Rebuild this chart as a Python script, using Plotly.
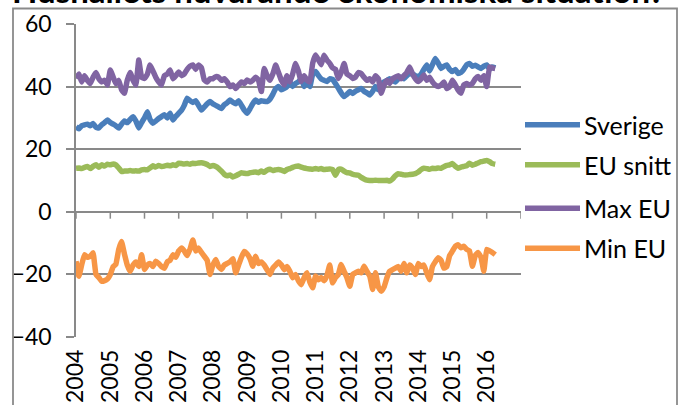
import plotly.graph_objects as go
import pandas as pd

months = pd.date_range("2004-01-01", periods=148, freq="MS")

sverige = [
    27.2, 26.5, 27.5, 27.8, 28.0, 27.5, 28.2, 27.0, 26.8, 27.8, 28.5, 29.3,
    28.5, 28.0, 27.5, 26.8, 28.0, 29.0, 28.5, 29.5, 30.4, 29.0, 26.8, 28.5,
    30.0, 32.0, 29.5, 28.3, 29.0, 29.8, 30.4, 31.0, 30.0, 31.5, 29.3, 30.5,
    31.5, 32.5, 34.0, 36.3, 35.5, 34.9, 35.5, 34.0, 32.5, 33.5, 34.5, 35.2,
    34.5, 34.0, 33.5, 33.0, 34.2, 34.8, 35.7, 35.0, 34.5, 35.5, 34.0, 32.5,
    31.5, 33.0, 34.5, 35.7, 35.0, 35.5, 35.3, 35.2, 36.0, 37.5, 39.4, 40.0,
    39.0, 39.4, 40.0, 41.5, 40.0, 41.0, 41.5, 42.5, 40.0, 42.0, 40.0, 44.0,
    44.8, 43.5, 42.5, 42.0, 41.6, 42.5, 42.3, 41.0, 39.5, 38.0, 36.8, 37.5,
    38.4, 37.8, 38.5, 39.0, 39.4, 38.5, 38.0, 37.3, 38.5, 40.0, 39.0, 41.0,
    41.5, 42.0, 42.5, 42.0, 41.5, 42.5, 43.0, 42.5, 43.5, 44.2, 44.0, 43.5,
    43.2, 44.0, 45.5, 46.9, 45.0, 47.0, 49.0, 47.5, 45.8, 46.5, 46.9, 45.5,
    44.8, 45.5, 44.2, 44.5, 45.5, 47.0, 47.4, 46.5, 46.8, 46.3, 45.8, 46.5,
    46.9, 45.5, 46.3, 46.0,
]

eu_snitt = [
    13.9, 14.0, 13.8, 14.2, 14.5, 13.8, 14.5, 15.0, 14.2, 15.0, 14.6, 15.2,
    15.0, 15.3, 15.0, 14.0, 12.9, 13.0, 13.0, 13.2, 13.0, 13.1, 13.0, 13.4,
    13.5, 13.4, 14.0, 14.7, 14.3, 14.8, 14.5, 14.6, 14.9, 14.7, 15.0, 14.8,
    15.5, 15.4, 15.3, 15.4, 15.2, 15.5, 15.4, 15.6, 15.7, 15.5, 15.1, 14.5,
    14.8, 14.5, 13.9, 13.0, 12.0, 11.5, 11.8, 11.1, 11.5, 12.0, 12.5, 12.3,
    12.2, 12.5, 12.6, 12.7, 12.5, 13.0, 12.6, 13.3, 13.6, 13.2, 13.4, 13.5,
    13.3, 12.9, 13.5, 13.8, 14.2, 14.5, 14.6, 14.3, 14.0, 13.8, 13.7, 13.6,
    13.8, 13.6, 13.8, 13.5, 13.6, 13.7, 13.5, 11.7, 13.5, 13.6, 13.0, 12.5,
    12.4, 12.0, 11.8, 11.7, 11.0, 10.5, 10.1, 10.0, 10.0, 10.1, 10.0, 10.0,
    10.0, 10.1, 9.8, 10.5, 11.5, 12.2, 12.0, 11.8, 11.8, 11.9, 12.0, 12.2,
    12.7, 13.5, 13.9, 13.8, 13.6, 13.9, 13.8, 14.0, 13.9, 14.4, 14.8, 15.0,
    15.4, 14.5, 13.9, 14.3, 14.5, 14.7, 15.5, 14.9, 15.2, 15.6, 16.0, 16.2,
    16.4, 16.0, 15.4, 15.2,
]

max_eu = [
    42.6, 44.0, 41.5, 43.5, 42.0, 41.0, 43.0, 44.5, 42.5, 41.5, 42.0, 40.5,
    45.3, 43.0, 41.0, 42.0, 39.0, 37.9, 42.0, 44.5, 42.0, 40.5, 48.5, 43.0,
    42.6, 44.0, 46.9, 45.0, 43.0, 41.5, 40.5, 43.5, 44.0, 45.3, 42.5, 43.5,
    44.7, 43.5, 44.0, 45.5, 46.5, 46.9, 45.5, 46.9, 46.0, 42.1, 41.5, 42.5,
    42.5, 43.2, 43.0, 42.0, 42.5, 41.5, 40.0, 40.5, 39.4, 40.5, 41.5, 41.0,
    42.1, 41.5, 42.0, 43.0, 42.1, 38.4, 45.8, 43.5, 42.0, 44.0, 46.9, 44.5,
    42.0, 40.5, 43.5, 41.5, 44.0, 47.4, 45.0, 41.6, 43.5, 42.0, 41.5, 47.5,
    50.1, 48.5, 47.0, 50.0, 48.5, 47.4, 46.0, 45.5, 42.6, 44.5, 47.4, 44.0,
    43.5, 42.6, 43.0, 44.5, 44.2, 43.0, 42.0, 42.5, 41.5, 43.5, 42.5, 37.9,
    40.5, 42.0, 41.0, 42.5, 43.0, 43.5, 42.5, 43.5, 44.5, 46.3, 44.0, 42.5,
    41.6, 42.5, 43.7, 42.0, 43.0, 41.5, 40.5, 40.0, 40.5, 41.5, 39.4, 40.0,
    42.0, 40.5, 38.9, 37.9, 40.5, 41.0, 40.5, 41.0, 42.5, 43.2, 42.0, 43.5,
    40.0, 46.3, 46.0, 45.8,
]

min_eu = [
    -15.8, -20.6, -17.0, -13.7, -14.5, -14.2, -13.1, -20.0, -21.0, -22.2, -22.0, -21.5,
    -20.0, -17.5, -16.8, -12.0, -9.5, -13.5, -17.0, -19.0, -17.0, -16.0, -17.5, -13.7,
    -18.4, -17.0, -16.5, -17.5, -15.8, -16.5, -17.5, -18.0, -16.0, -15.5, -13.7, -14.5,
    -12.5, -11.6, -12.5, -14.0, -12.0, -9.0, -12.5, -11.6, -13.0, -14.2, -15.5, -20.0,
    -17.0, -15.2, -17.5, -18.4, -17.0, -16.5, -16.0, -15.0, -19.5, -17.0, -14.5, -12.7,
    -13.5, -15.0, -17.4, -14.2, -16.5, -16.0, -17.0, -18.5, -20.0, -18.0, -17.0, -16.0,
    -17.0, -18.5, -17.5, -19.0, -21.1, -20.0, -22.0, -23.3, -21.0, -19.5, -22.5, -24.3,
    -20.5, -21.7, -21.0, -22.0, -20.5, -17.0, -22.7, -21.0, -20.0, -16.8, -19.0, -21.0,
    -23.8, -20.0, -19.5, -19.0, -19.5, -17.4, -19.0, -20.5, -24.8, -19.5, -24.0, -25.4,
    -24.0, -21.0, -19.0, -18.5, -18.0, -17.5, -19.0, -16.5, -19.5, -17.0, -18.0, -20.0,
    -16.5, -17.5, -17.0, -19.5, -21.7, -17.5, -16.0, -14.7, -15.5, -18.0, -17.5, -14.0,
    -12.5, -11.0, -10.5, -11.5, -11.0, -12.0, -12.5, -17.4, -14.0, -13.0, -14.5, -19.0,
    -12.0, -12.5, -13.0, -13.7,
]

series_names = ["Sverige", "EU snitt", "Max EU", "Min EU"]
series_values = [sverige, eu_snitt, max_eu, min_eu]
colors = ["#4A7EBB", "#9BBB59", "#8064A2", "#F79646"]

year_labels = [str(y) for y in range(2004, 2017)]
title_text = "Hushållets nuvarande ekonomiska situation?"

FONT = "Lato"
GRID = "#898989"
BORDER = "#8A8A8A"
FS_TICK = 23
FS_LEG = 25

# plot area in pixels
W, H = 687, 405
L, R, T, B = 76, 521, 23.5, 337
pw, ph = R - L, B - T


def px(x):
    return (x - L) / pw


def py(y):
    return (B - y) / ph


fig = go.Figure()
for name, vals, col in zip(series_names, series_values, colors):
    fig.add_trace(go.Scatter(
        x=months, y=vals, mode="lines", name=name, showlegend=False,
        line=dict(color=col, width=5.5, shape="spline", smoothing=0.3),
        hoverinfo="skip",
    ))

xr = ["2004-01-01", "2017-01-01"]
tick_dates = [f"{y}-01-01" for y in range(2004, 2018)]

fig.update_layout(
    width=W, height=H,
    margin=dict(l=L, r=W - R, t=T, b=H - B, pad=0, autoexpand=False),
    paper_bgcolor="white", plot_bgcolor="white",
    font=dict(family=FONT, size=FS_TICK, color="black"),
    xaxis=dict(
        type="date", range=xr, showgrid=False, zeroline=False, showline=False,
        tickmode="array", tickvals=tick_dates[:-1], ticktext=year_labels,
        tickangle=-90, ticks="", ticklabelstandoff=7, automargin=False,
        tickfont=dict(family=FONT, size=FS_TICK),
    ),
    yaxis=dict(
        range=[-40, 60], dtick=20, tick0=0, showgrid=True, gridcolor=GRID,
        gridwidth=1.5, zeroline=True, zerolinecolor=GRID, zerolinewidth=1.5,
        showline=True, linecolor=GRID, linewidth=1.5, automargin=False,
        ticks="outside", ticklen=8, tickwidth=1.5, tickcolor=GRID,
        ticklabelstandoff=10, tickfont=dict(family=FONT, size=FS_TICK),
    ),
)

shapes = [
    # chart-area border
    dict(type="rect", xref="paper", yref="paper",
         x0=px(13), x1=px(677), y0=py(420), y1=py(8),
         line=dict(color=BORDER, width=1.8)),
]
# category-axis tick marks hanging from the zero line
for d in tick_dates:
    shapes.append(dict(type="line", xref="x", yref="paper", x0=d, x1=d,
                       y0=py(212), y1=py(218.5), line=dict(color=GRID, width=1.5)))

annotations = [
    dict(text=f"<b>{title_text}</b>", xref="paper", yref="paper",
         x=px(338), y=py(-11), xanchor="center", yanchor="middle", showarrow=False,
         font=dict(family=FONT, size=33, color="black")),
]
legend_y = [124.5, 164.5, 208, 248]
for name, col, ly in zip(series_names, colors, legend_y):
    shapes.append(dict(type="line", xref="paper", yref="paper",
                       x0=px(525), x1=px(580), y0=py(ly), y1=py(ly),
                       line=dict(color=col, width=5.5)))
    annotations.append(dict(text=name, xref="paper", yref="paper",
                            x=px(582), y=py(ly), xanchor="left", yanchor="middle",
                            showarrow=False, font=dict(family=FONT, size=FS_LEG, color="black")))

fig.update_layout(shapes=shapes, annotations=annotations)
fig.write_html("out.html", config={"displayModeBar": False},
               post_script="document.body.style.margin='0';document.body.style.overflow='hidden';")
